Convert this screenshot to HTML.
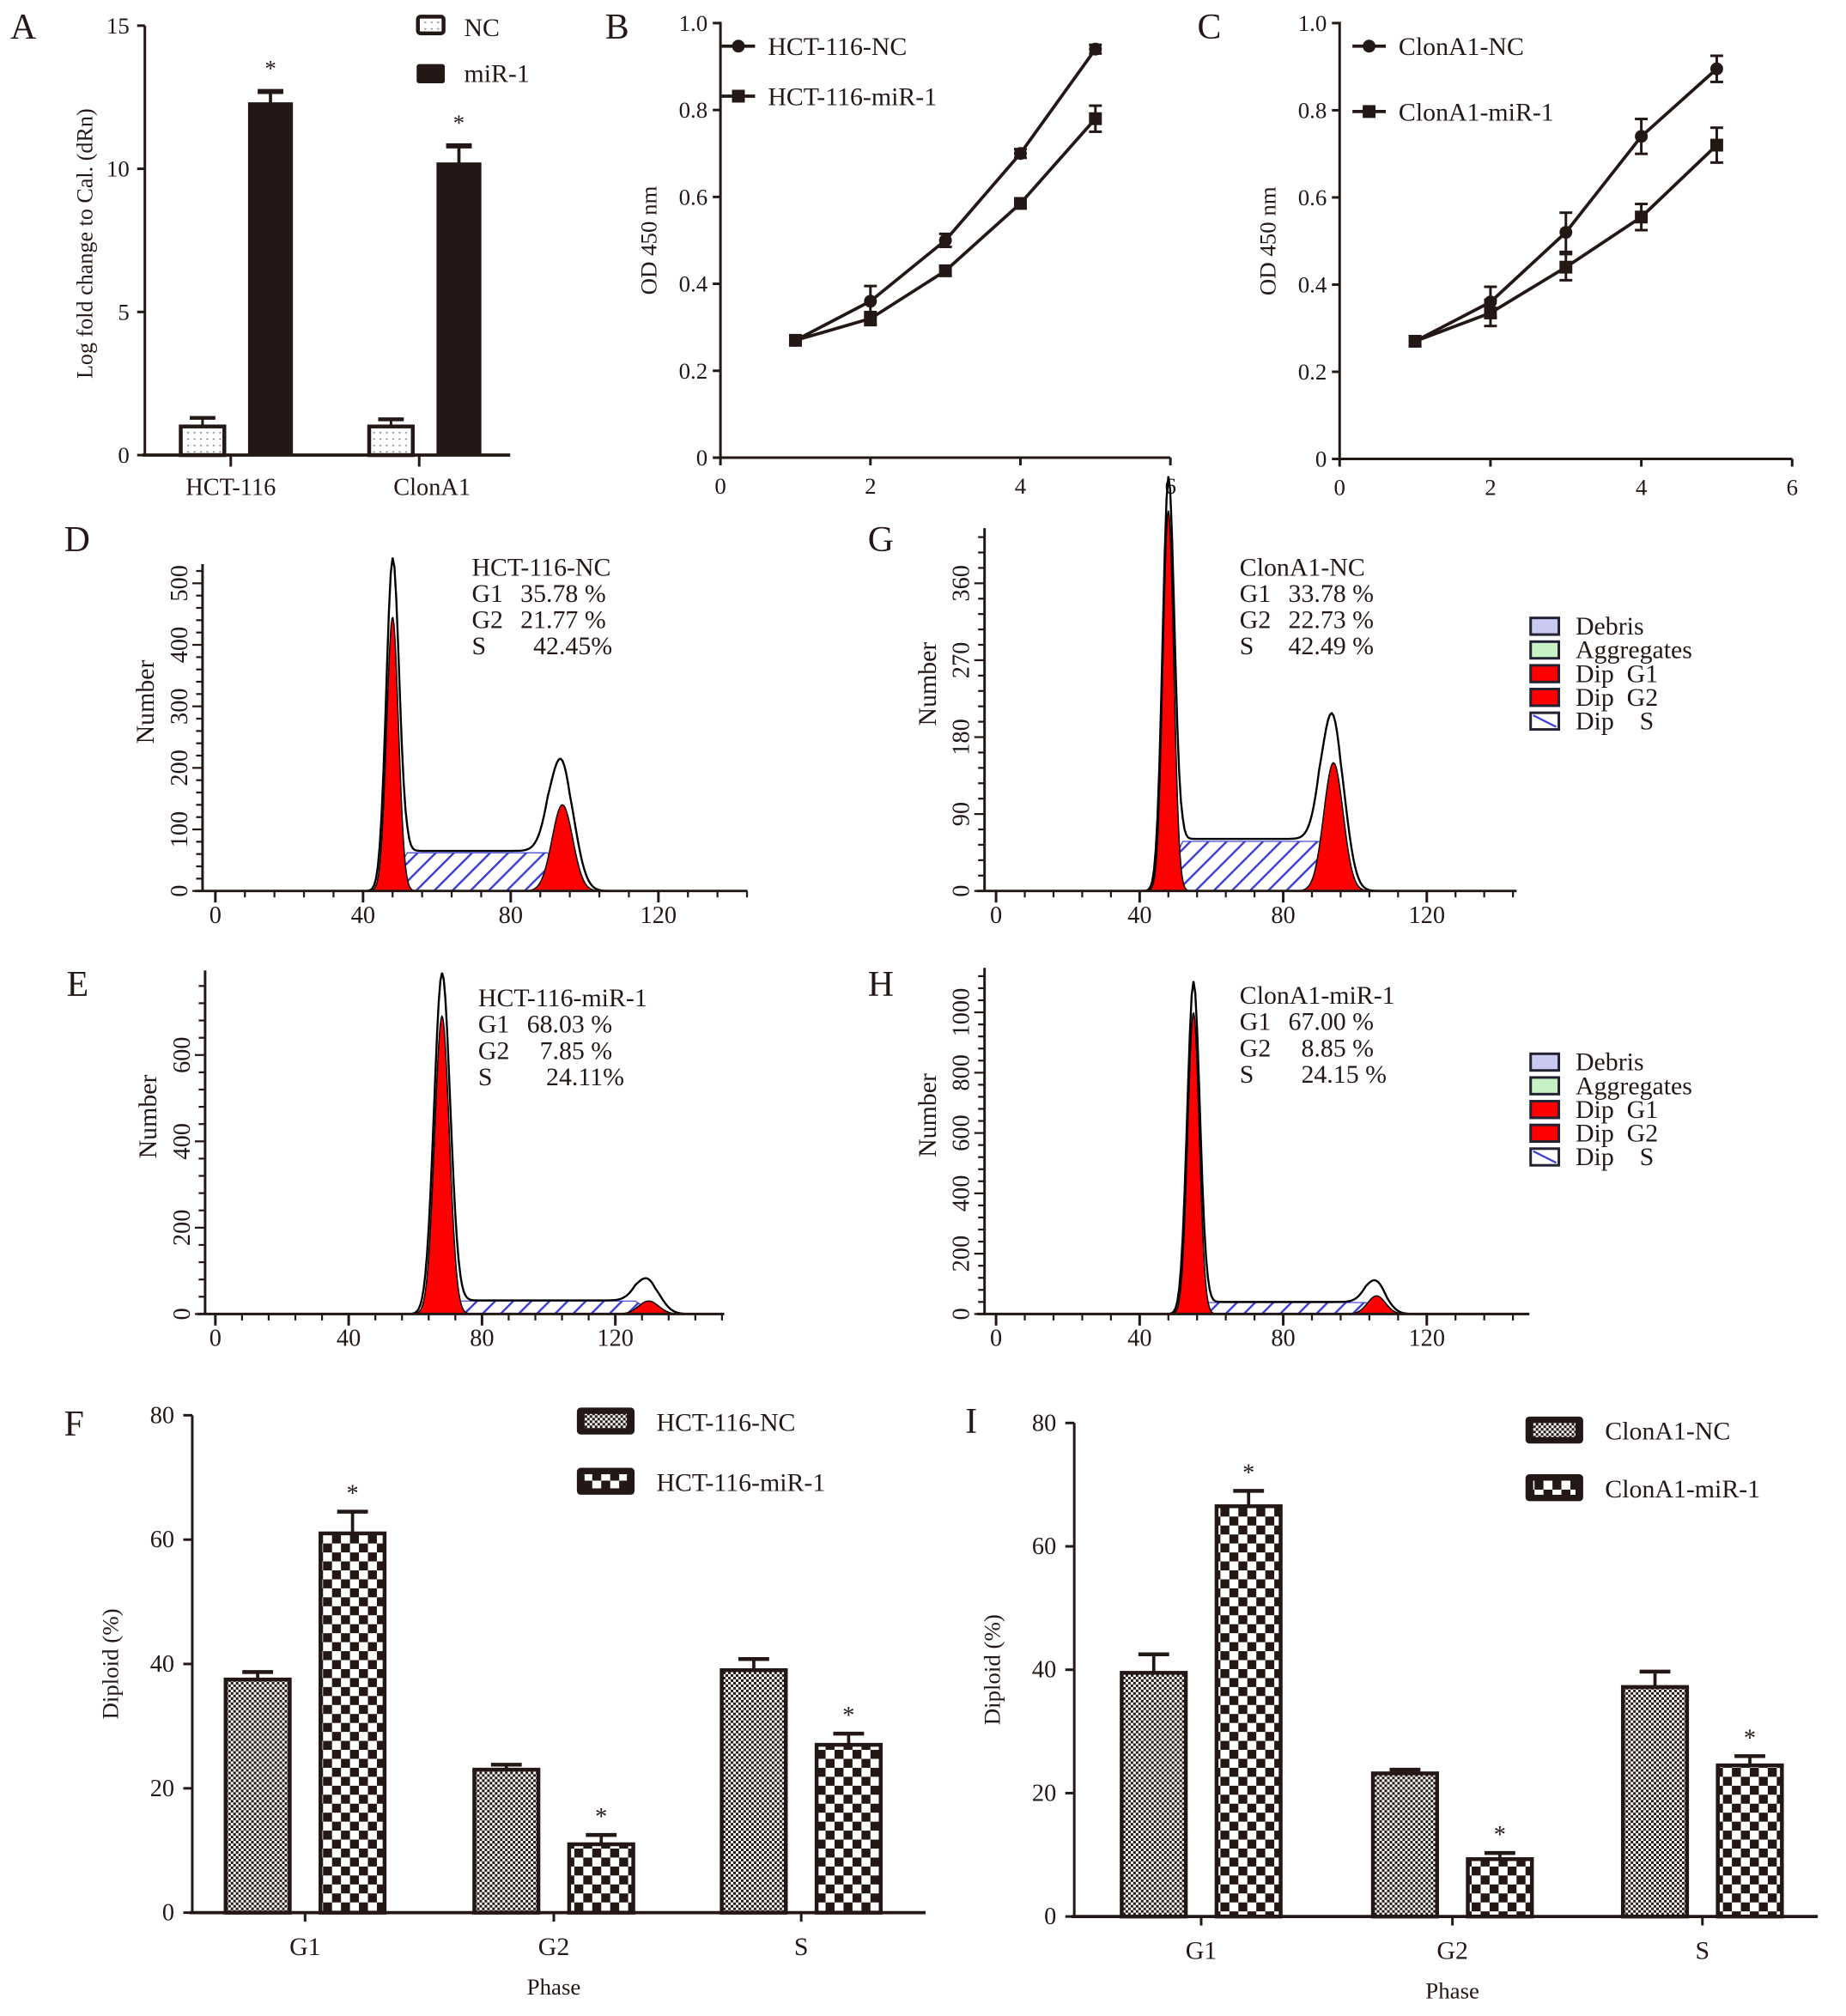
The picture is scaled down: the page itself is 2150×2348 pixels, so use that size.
<!DOCTYPE html>
<html><head><meta charset="utf-8"><style>
html,body{margin:0;padding:0;background:#fff}
svg{display:block}
text{font-family:"Liberation Serif",serif;fill:#231815;white-space:pre}
</style></head><body>
<svg id="fig" xmlns="http://www.w3.org/2000/svg" width="2150" height="2348" viewBox="0 0 1440 1572.6">
<defs>
<pattern id="fine" width="4" height="4" patternUnits="userSpaceOnUse"><rect width="4" height="4" fill="#fff"/><rect width="2" height="2" fill="#231815"/><rect x="2" y="2" width="2" height="2" fill="#231815"/></pattern>
<pattern id="coarse" width="14" height="14" patternUnits="userSpaceOnUse"><rect width="14" height="14" fill="#fff"/><rect width="7" height="7" fill="#231815"/><rect x="7" y="7" width="7" height="7" fill="#231815"/></pattern>
<pattern id="dots" width="5" height="5" patternUnits="userSpaceOnUse"><rect width="5" height="5" fill="#fff"/><rect x="1" y="2" width="1.5" height="1" fill="#888"/></pattern>
<pattern id="hatch" width="10" height="10" patternUnits="userSpaceOnUse" patternTransform="rotate(45)"><rect width="10" height="10" fill="#fff"/><rect width="1.6" height="10" fill="#3b3bd6"/></pattern>
</defs>
<g id="root"></g>
</svg>
<script>
// ---------- data ----------
const aCategories = ["HCT-116","ClonA1"];
const aNC = [1.0, 1.0];
const aNCerr = [0.3, 0.25];
const aMiR = [12.3, 10.2];
const aMiRerr = [0.4, 0.6];
const aTicks = [0,5,10,15];

const dayX = [1,2,3,4,5];
const bNC = [0.27,0.36,0.50,0.70,0.94];
const bNCerr = [0.01,0.035,0.015,0.01,0.01];
const bMiR = [0.27,0.32,0.43,0.585,0.78];
const bMiRerr = [0.01,0.015,0.01,0.01,0.03];
const cNC = [0.27,0.36,0.52,0.74,0.895];
const cNCerr = [0.01,0.035,0.045,0.04,0.03];
const cMiR = [0.27,0.335,0.44,0.555,0.72];
const cMiRerr = [0.01,0.03,0.03,0.03,0.04];
const lineYTicks = [0,0.2,0.4,0.6,0.8,1.0];
const lineXTicks = [0,2,4,6];

// histogram params: [G1 mean, G1 outer height, G1 red height, G1 sd, G2 mean, G2 outer, G2 red, G2 sd, S level, S start, S end]
const histD = [48, 520, 445, 1.6, 94, 190, 140, 2.8, 62, 52, 90];
const histG = [48, 465, 445, 1.5, 94, 185, 150, 2.7, 58, 52, 90];
const histE = [68, 780, 690, 2.2, 130, 70, 30, 3.0, 30, 72, 126];
const histH = [55, 1090, 1000, 1.6, 106, 90, 60, 2.5, 38, 59, 103];

const phases = ["G1","G2","S"];
const fNC = [37.5, 23, 39];
const fNCerr = [1.2, 0.8, 1.8];
const fMiR = [61, 11, 27];
const fMiRerr = [3.5, 1.5, 1.8];
const iNC = [39.5, 23.2, 37.2];
const iNCerr = [3, 0.6, 2.5];
const iMiR = [66.5, 9.3, 24.5];
const iMiRerr = [2.5, 1, 1.5];
const barTicks = [0,20,40,60,80];

// ---------- helpers ----------
const NS="http://www.w3.org/2000/svg";
const root=document.getElementById('root');
const C="#231815";
function el(tag,attrs,parent){const e=document.createElementNS(NS,tag);for(const k in attrs)e.setAttribute(k,attrs[k]);(parent||root).appendChild(e);return e;}
function txt(x,y,s,size,parent,anchor,rot){const t=el('text',{x:x,y:y,'font-size':size,'text-anchor':anchor||'start'},parent);if(rot)t.setAttribute('transform','rotate(-90 '+x+' '+y+')');t.textContent=s;return t;}
function line(x1,y1,x2,y2,w,parent,col){return el('line',{x1,y1,x2,y2,stroke:col||C,'stroke-width':w||2},parent);}
function group(name){const g=el('g',{});return g;}

// panel letters
[["A",8,30],["B",472,30],["C",934,30],["D",50,430],["G",677,430],["E",52,777],["H",677,777],["F",50,1120],["I",753,1118]].forEach(p=>{const t=txt(p[1],p[2],p[0],28);});

// ---------- Panel A ----------
(function(){
const g=group('panel-a-bar-chart');
const x0=113,y0=355,yTop=20,ymax=15,xEnd=398;
const sy=v=>y0-(y0-yTop)*v/ymax;
line(x0,yTop,x0,y0+1,2,g);line(x0-2,y0,xEnd,y0,2.5,g);
aTicks.forEach(t=>{line(x0-6,sy(t),x0,sy(t),2,g);txt(x0-12,sy(t)+6,String(t),18,g,'end');});
const groupX=[180,327];
aCategories.forEach((c,i)=>{
 line(groupX[i],y0,groupX[i]+0,y0+9,2,g);
 const lab=txt(groupX[i]+(i?10:0),y0+31,c,19,g,'middle');
 const cx1=groupX[i]-22,cx2=groupX[i]+31;const w=34;
 const b1=el('rect',{x:cx1-w/2,y:sy(aNC[i]),width:w,height:y0-sy(aNC[i]),fill:'url(#dots)',stroke:C,'stroke-width':3},g);
 
 line(cx1,sy(aNC[i]),cx1,sy(aNC[i]+aNCerr[i]),2,g);line(cx1-10,sy(aNC[i]+aNCerr[i]),cx1+10,sy(aNC[i]+aNCerr[i]),3,g);
 const b2=el('rect',{x:cx2-w/2,y:sy(aMiR[i]),width:w,height:y0-sy(aMiR[i]),fill:C,stroke:C,'stroke-width':1},g);
 
 const et=sy(aMiR[i]+aMiRerr[i]);line(cx2,sy(aMiR[i]),cx2,et,2.5,g);line(cx2-10,et,cx2+10,et,4,g);
 txt(cx2,et-12,'*',18,g,'middle');
});
const yt=txt(72,190,'Log fold change to Cal. (dRn)',17.5,g,'middle',true);
const l1=el('rect',{x:326,y:13,width:20,height:13,rx:2,fill:'url(#dots)',stroke:C,'stroke-width':3},g);
txt(362,28,'NC',20,g);
const l2=el('rect',{x:325,y:50,width:22,height:15,rx:2,fill:C},g);
txt(362,64,'miR-1',20,g);
})();

// ---------- Panels B, C ----------
function linePanel(name,x0,xEnd,y0,yTop,nc,ncErr,mir,mirErr,labels,legY,legX){
 const g=group(name);
 const sx=v=>x0+(xEnd-x0)*v/6, sy=v=>y0-(y0-yTop)*v/1.0;
 line(x0,yTop-1,x0,y0,2,g);line(x0,y0,xEnd,y0,2,g);
 lineYTicks.forEach(t=>{line(x0-6,sy(t),x0,sy(t),2,g);txt(x0-10,sy(t)+6,t===0?'0':t.toFixed(1),18,g,'end');});
 lineXTicks.forEach(t=>{line(sx(t),y0,sx(t),y0+6,2,g);txt(sx(t),y0+28,String(t),18,g,'middle');});
 const yt=txt(x0-50,(y0+yTop)/2,'OD 450 nm',18,g,'middle',true);
 [[nc,ncErr,'circle','nc'],[mir,mirErr,'square','mir1']].forEach(s=>{
  const pts=dayX.map((d,i)=>sx(d)+','+sy(s[0][i])).join(' ');
  const pl=el('polyline',{points:pts,fill:'none',stroke:C,'stroke-width':2.5},g);
  
  dayX.forEach((d,i)=>{
   const X=sx(d),Y=sy(s[0][i]),e=s[1][i];
   line(X,sy(s[0][i]+e),X,sy(s[0][i]-e),2,g);line(X-5,sy(s[0][i]+e),X+5,sy(s[0][i]+e),2,g);line(X-5,sy(s[0][i]-e),X+5,sy(s[0][i]-e),2,g);
   let m;if(s[2]==='circle')m=el('circle',{cx:X,cy:Y,r:5,fill:C},g);else m=el('rect',{x:X-5,y:Y-5,width:10,height:10,fill:C},g);
   
  });
 });
 line(legX,legY[0],legX+26,legY[0],2.5,g);el('circle',{cx:legX+13,cy:legY[0],r:5,fill:C},g);txt(legX+36,legY[0]+7,labels[0],20,g);
 line(legX,legY[1],legX+26,legY[1],2.5,g);el('rect',{x:legX+8,y:legY[1]-5,width:10,height:10,fill:C},g);txt(legX+36,legY[1]+7,labels[1],20,g);
}
linePanel('panel-b-line-chart',562,913,357,18,bNC,bNCerr,bMiR,bMiRerr,['HCT-116-NC','HCT-116-miR-1'],[36,75],563);
linePanel('panel-c-line-chart',1045,1398,358,18,cNC,cNCerr,cMiR,cMiRerr,['ClonA1-NC','ClonA1-miR-1'],[36,87],1055);

// ---------- Histograms ----------
function gauss(x,m,h,s){return h*Math.exp(-0.5*((x-m)/s)**2);}
function histPanel(name,p,x0ax,xZero,pxPerU,y0,pxPerCount,yTopAx,yTicks,xEndAx,info,infoX,infoY){
 const g=group(name);
 const sx=v=>xZero+pxPerU*v, sy=v=>y0-pxPerCount*v;
 const [g1m,g1o,g1r,g1s,g2m,g2o,g2r,g2s,sl,ss,se]=p;
 const Sf=x=>{if(x<ss-6||x>se+6)return 0;if(x<ss)return sl*(x-ss+6)/6;if(x>se)return sl*(se+6-x)/6;return sl;};
 const sp=[];for(let x=ss-6;x<=se+6;x+=0.5)sp.push(sx(x)+','+sy(Sf(x)));
 const sreg=el('polygon',{points:sx(ss-6)+','+y0+' '+sp.join(' ')+' '+sx(se+6)+','+y0,fill:'url(#hatch)',stroke:'#3b3bd6','stroke-width':0.8},g);
 
 [[g1m,g1r,g1s,'g1'],[g2m,g2r,g2s,'g2']].forEach(q=>{
  const pp=[];for(let x=q[0]-4*q[2];x<=q[0]+4*q[2];x+=0.25)pp.push(sx(x)+','+sy(gauss(x,q[0],q[1],q[2])));
  const r=el('polygon',{points:pp.join(' '),fill:'#f00',stroke:'#000','stroke-width':1},g);
  
 });
 const op=[];const xs=(xEndAx-xZero)/pxPerU;
 for(let x=0;x<=xs;x+=0.5){const v=gauss(x,g1m,g1o,g1s*1.1)+gauss(x,g2m,g2o,g2s*1.15)+Sf(x)*1.05;op.push(sx(x)+','+sy(v));}
 const ol=el('polyline',{points:op.join(' '),fill:'none',stroke:'#000','stroke-width':1.6},g);
 
 line(x0ax,yTopAx,x0ax,y0,2,g);line(x0ax-6,y0,xEndAx,y0,2,g);
 const yMaxC=(y0-yTopAx)/pxPerCount;const step=yTicks[1]/5;
 for(let c=0;c<=yMaxC;c+=step){const big=Math.abs(c/yTicks[1]-Math.round(c/yTicks[1]))<1e-6;line(x0ax-(big?8:5),sy(c),x0ax,sy(c),1.5,g);}
 yTicks.forEach(t=>{txt(x0ax-12,sy(t),String(t),19,g,'middle',true);});
 for(let x=0;x<=xs;x+=8)line(sx(x),y0,sx(x),y0+5,1.5,g);
 [0,40,80,120].forEach(t=>{line(sx(t),y0,sx(t),y0+9,2,g);txt(sx(t),y0+25,String(t),19,g,'middle');});
 const yt=txt(x0ax-38,(y0+yTopAx)/2-20,'Number',20,g,'middle',true);
 info.forEach((s,i)=>{txt(infoX,infoY+i*20.5,s[0],20,g);if(s[1])txt(infoX+38,infoY+i*20.5,s[1],20,g);});
}
histPanel('panel-d-histogram',histD,158,168,2.88,695,0.48,440,[0,100,200,300,400,500],583,[['HCT-116-NC'],['G1','35.78 %'],['G2','21.77 %'],['S','  42.45%']],368,449);
histPanel('panel-g-histogram',histG,768,777,2.8,695,0.6667,412,[0,90,180,270,360],1183,[['ClonA1-NC'],['G1','33.78 %'],['G2','22.73 %'],['S','42.49 %']],967,449);
histPanel('panel-e-histogram',histE,160,168,2.6,1025,0.3367,757,[0,200,400,600],565,[['HCT-116-miR-1'],['G1','68.03 %'],['G2','  7.85 %'],['S','   24.11%']],373,785);
histPanel('panel-h-histogram',histH,768,777,2.8,1025,0.2353,755,[0,200,400,600,800,1000],1193,[['ClonA1-miR-1'],['G1','67.00 %'],['G2','  8.85 %'],['S','  24.15 %']],967,783);

function histLegend(y0,name){
 const g=group(name);
 const items=[['Debris','#c9c9f2'],['Aggregates','#c6f2c6'],['Dip  G1','#f00'],['Dip  G2','#f00'],['Dip    S','hatch']];
 items.forEach((it,i)=>{
  const y=y0+i*18.5;
  const r=el('rect',{x:1194,y:y-13,width:22,height:13,fill:it[1]==='hatch'?'#fff':it[1],stroke:'#223','stroke-width':2},g);
  
  if(it[1]==='hatch')line(1196,y-11,1214,y-2,1.5,g,'#3b3bd6');
  txt(1229,y,it[0],20,g);
 });
}
histLegend(495,'legend-top');histLegend(835,'legend-bottom');

// ---------- Panels F, I ----------
function barPanel(name,x0,xEnd,y0,yTop,nc,ncE,mir,mirE,centers,bw,leg,legY){
 const g=group(name);
 const sy=v=>y0-(y0-yTop)*v/80;
 line(x0,yTop,x0,y0,2,g);line(x0-2,y0,xEnd,y0,2.5,g);
 barTicks.forEach(t=>{line(x0-7,sy(t),x0,sy(t),2,g);txt(x0-14,sy(t)+6,String(t),19,g,'end');});
 phases.forEach((ph,i)=>{
  const c=centers[i];
  line(c,y0,c,y0+7,2,g);txt(c,y0+33,ph,20,g,'middle');
  [[nc,ncE,'fine',-37,'nc'],[mir,mirE,'coarse',37,'mir1']].forEach(s=>{
   const cx=c+s[3],v=s[0][i],e=s[1][i];
   line(cx,sy(v),cx,sy(v+e),2.5,g);line(cx-12,sy(v+e),cx+12,sy(v+e),3,g);
   const r=el('rect',{x:cx-bw/2,y:sy(v),width:bw,height:y0-sy(v),fill:'url(#'+s[2]+')',stroke:C,'stroke-width':3},g);
   
   if(s[4]==='mir1')txt(cx,sy(v+e)-8,'*',19,g,'middle');
  });
 });
 txt(centers[1],y0+64,'Phase',18,g,'middle');
 const yt=txt(x0-58,(y0+yTop)/2,'Diploid (%)',18,g,'middle',true);
 [[leg[0],'fine',legY[0]],[leg[1],'coarse',legY[1]]].forEach((l,i)=>{
  const bx=legY[2];
  el('rect',{x:bx,y:l[2]-11,width:45,height:21,rx:3,fill:C},g);
  const sw=el('rect',{x:bx+6,y:l[2]-6,width:33,height:11,fill:'url(#'+l[1]+')'},g);
  
  txt(bx+62,l[2]+7,l[0],20,g);
 });
}
barPanel('panel-f-bar-chart',150,722,1492,1104,fNC,fNCerr,fMiR,fMiRerr,[238,432,625],50,['HCT-116-NC','HCT-116-miR-1'],[1109,1156,450]);
barPanel('panel-i-bar-chart',838,1418,1495,1110,iNC,iNCerr,iMiR,iMiRerr,[937,1133,1328],50,['ClonA1-NC','ClonA1-miR-1'],[1116,1161,1190]);
</script>
</body></html>
